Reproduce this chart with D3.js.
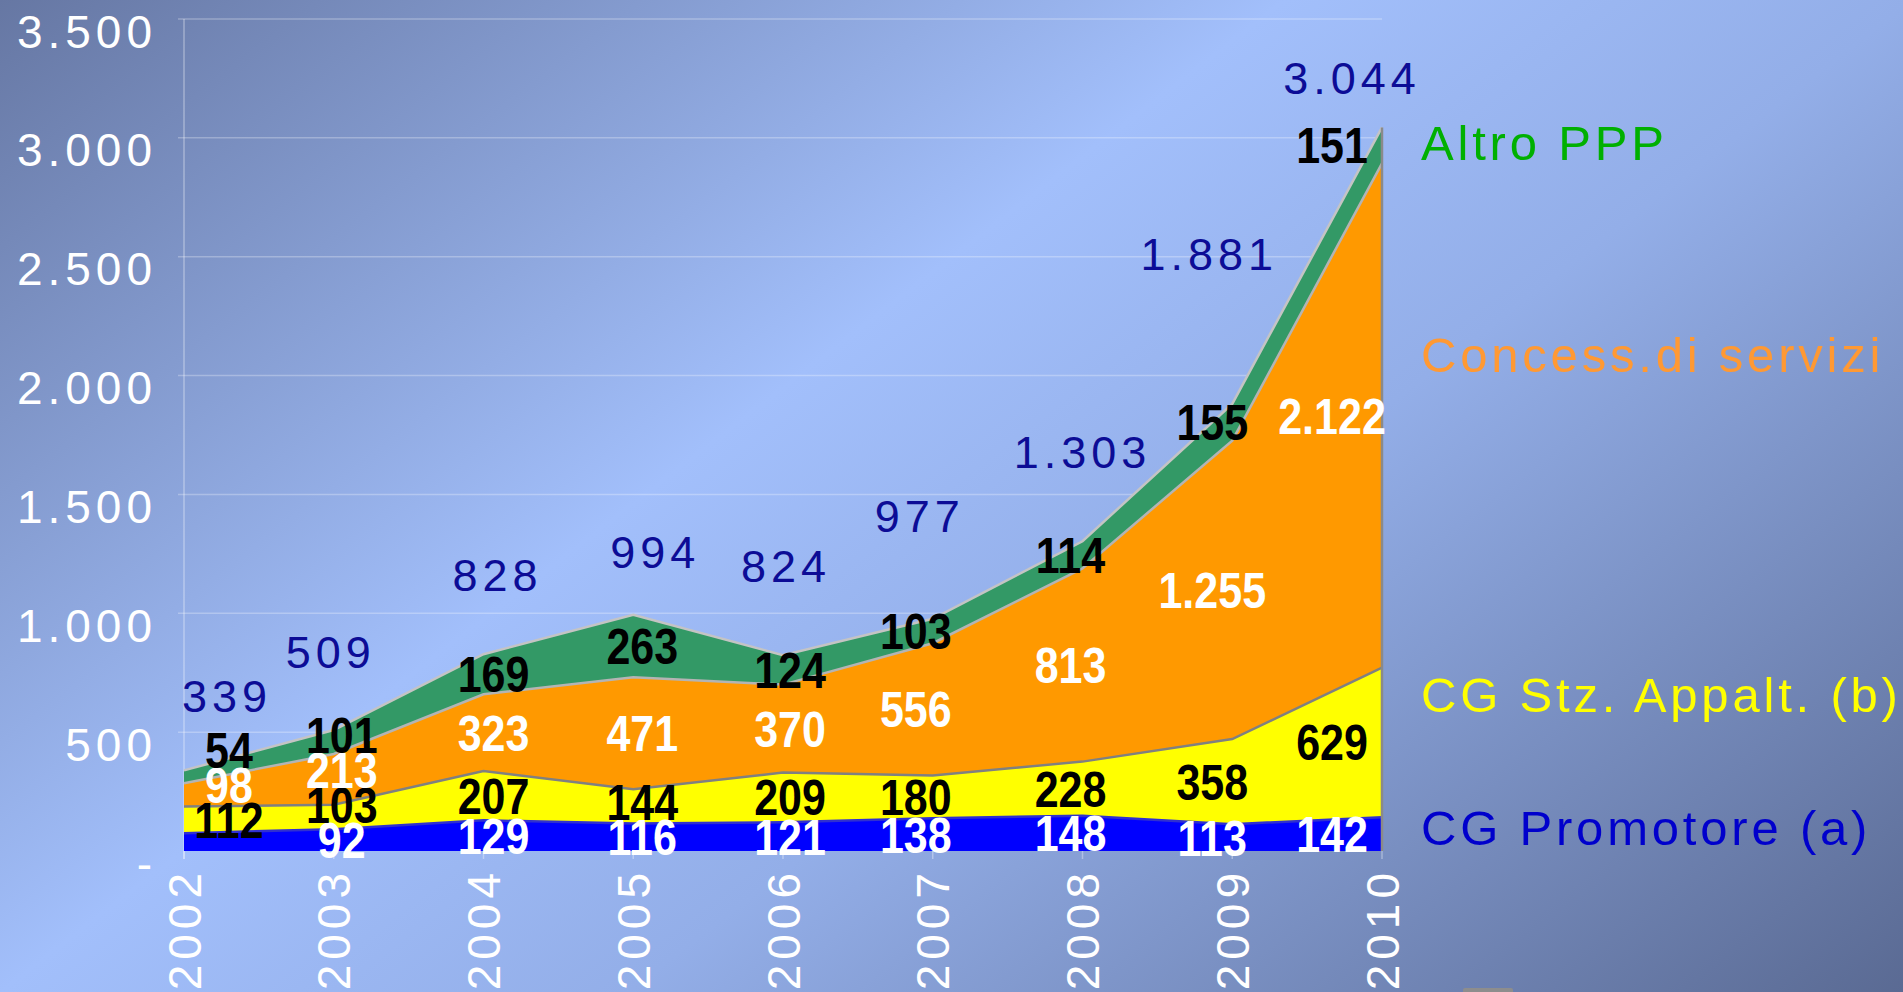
<!DOCTYPE html>
<html>
<head>
<meta charset="utf-8">
<style>
  body { margin: 0; overflow: hidden; }
  svg { display: block; }
  .tick-label { font-family: "Liberation Sans", Arial, sans-serif; font-size: 46px; letter-spacing: 5px; fill: #fff; }
  .total { font-family: "Liberation Sans", Arial, sans-serif; font-size: 45px; letter-spacing: 5px; fill: #0c0c96; }
  .value { font-family: "Liberation Sans", Arial, sans-serif; font-size: 50px; font-weight: bold; }
  .legend { font-family: "Liberation Sans", Arial, sans-serif; font-size: 49px; letter-spacing: 3.8px; }
</style>
</head>
<body>
<svg id="chart" width="1903" height="992"></svg>

<script src="https://cdn.jsdelivr.net/npm/d3@7"></script>
<script>
// values, stacked bottom to top
var years = ["2002", "2003", "2004", "2005", "2006", "2007", "2008", "2009", "2010"];
var promotore = [75, 92, 129, 116, 121, 138, 148, 113, 142];
var stzAppalt = [112, 103, 207, 144, 209, 180, 228, 358, 629];
var concessioni = [98, 213, 323, 471, 370, 556, 813, 1255, 2122];
var altroPPP = [54, 101, 169, 263, 124, 103, 114, 155, 151];
var totals = [339, 509, 828, 994, 824, 977, 1303, 1881, 3044];

var seriesKeys = ["promotore", "stzAppalt", "concessioni", "altroPPP"];
var seriesNames = ["CG Promotore (a)", "CG Stz. Appalt. (b)", "Concess.di servizi", "Altro PPP"];
var yTicks = [0, 500, 1000, 1500, 2000, 2500, 3000, 3500];

// styling
var fills = ["#0000ff", "#ffff00", "#ff9900", "#339966"];
var edges = ["#3030d0", "#808080", "#b4b4b4", "#c4c4c4"];
var labelColors = ["#fff", "#000", "#fff", "#000"];
var legendColors = ["#0000cc", "#ffff00", "#ff9933", "#00b000"];
var legendBaselines = [845, 712, 372, 160];

// hand placement of the labels in the original slide (pixels)
var colDx = [45, 8, 10, 9, 7, -17, -12, -20, -50];
var totalDx = [43, -3, 14, 22, 3, -13, 0, -23, -30];
var totalDy = [-75, -78, -79, -63, -89, -103, -89, -150, -50];
var labelGap = 35;
var narrow = 0.86; // value labels are a condensed bold face

var svg = d3.select("#chart");
var W = 1903, H = 992;

var defs = svg.append("defs");
var grad = defs.append("linearGradient")
    .attr("id", "bg")
    .attr("gradientUnits", "userSpaceOnUse")
    .attr("x1", -480).attr("y1", 370)
    .attr("x2", 711).attr("y2", 1913);
[[0, "#6677a3"], [0.403, "#a2bffb"], [0.6, "#93aee8"], [1, "#5a6a93"]].forEach(function(s){
  grad.append("stop").attr("offset", s[0]).attr("stop-color", s[1]);
});

svg.append("rect")
    .attr("width", W).attr("height", H)
    .attr("fill", "url(#bg)");

var x = d3.scalePoint()
    .domain(years)
    .range([184, 1382]);

var y = d3.scaleLinear()
    .domain([0, 3500])
    .range([851, 19]);

var fmt = d3.formatLocale({decimal: ",", thousands: ".", grouping: [3], currency: ["€", ""]}).format(",d");

var rows = years.map(function(yr, i){
  return {year: yr, promotore: promotore[i], stzAppalt: stzAppalt[i], concessioni: concessioni[i], altroPPP: altroPPP[i]};
});

var stacked = d3.stack().keys(seriesKeys)(rows);

// gridlines
svg.append("g")
  .selectAll("line")
  .data(yTicks.slice(1))
  .enter().append("line")
    .attr("x1", x.range()[0] - 6)
    .attr("x2", x.range()[1])
    .attr("y1", function(d){ return y(d); })
    .attr("y2", function(d){ return y(d); })
    .attr("stroke", "rgba(255,255,255,0.28)")
    .attr("stroke-width", 1.5);

svg.append("line")
    .attr("x1", x.range()[0]).attr("x2", x.range()[0])
    .attr("y1", y(3500)).attr("y2", y(0) + 8)
    .attr("stroke", "rgba(255,255,255,0.35)")
    .attr("stroke-width", 1.5);

svg.append("g")
  .selectAll("line")
  .data(years)
  .enter().append("line")
    .attr("x1", function(d){ return x(d); })
    .attr("x2", function(d){ return x(d); })
    .attr("y1", y(0))
    .attr("y2", y(0) + 8)
    .attr("stroke", "rgba(255,255,255,0.35)")
    .attr("stroke-width", 1.5);

// areas
var area = d3.area()
    .x(function(d){ return x(d.data.year); })
    .y0(function(d){ return y(d[0]); })
    .y1(function(d){ return y(d[1]); });

svg.append("g")
  .selectAll("path")
  .data(stacked)
  .enter().append("path")
    .attr("d", area)
    .attr("fill", function(d, i){ return fills[i]; });

var topLine = d3.line()
    .x(function(d){ return x(d.data.year); })
    .y(function(d){ return y(d[1]); });

svg.append("g")
  .selectAll("path")
  .data(stacked)
  .enter().append("path")
    .attr("d", topLine)
    .attr("fill", "none")
    .attr("stroke", function(d, i){ return edges[i]; })
    .attr("stroke-width", 2.5);

// right edge of the stack
svg.append("line")
    .attr("x1", x(years[years.length - 1]))
    .attr("x2", x(years[years.length - 1]))
    .attr("y1", y(0))
    .attr("y2", y(totals[totals.length - 1]))
    .attr("stroke", "#8a8a8a")
    .attr("stroke-width", 2.5);

// y axis labels
svg.append("g")
  .selectAll("text")
  .data(yTicks)
  .enter().append("text")
    .attr("class", "tick-label")
    .attr("x", 157)
    .attr("y", function(d){ return y(d) + 12; })
    .attr("dy", "0.36em")
    .attr("text-anchor", "end")
    .text(function(d){ return d === 0 ? "-" : fmt(d); });

// x axis labels, rotated
svg.append("g")
  .selectAll("text")
  .data(years)
  .enter().append("text")
    .attr("class", "tick-label")
    .attr("transform", function(d){ return "translate(" + x(d) + "," + (y(0) + 17) + ") rotate(-90)"; })
    .attr("dy", "0.36em")
    .attr("text-anchor", "end")
    .text(function(d){ return d; });

// value labels in the middle of each band, pushed up when they crowd
var valueG = svg.append("g");
years.forEach(function(yr, i){
  var prev = Infinity;
  stacked.forEach(function(layer, s){
    var d = layer[i];
    if (s === 0 && i === 0) return; // hidden under "112" in the original
    var yy = Math.min(y((d[0] + d[1]) / 2), prev - labelGap);
    prev = yy;
    valueG.append("text")
        .attr("class", "value")
        .attr("transform", "translate(" + (x(yr) + colDx[i]) + "," + yy + ") scale(" + narrow + ",1)")
        .attr("dy", "0.36em")
        .attr("text-anchor", "middle")
        .attr("fill", labelColors[s])
        .text(fmt(d[1] - d[0]));
  });
});

// totals
svg.append("g")
  .selectAll("text")
  .data(totals)
  .enter().append("text")
    .attr("class", "total")
    .attr("x", function(d, i){ return x(years[i]) + totalDx[i]; })
    .attr("y", function(d, i){ return y(d) + totalDy[i]; })
    .attr("dy", "0.36em")
    .attr("text-anchor", "middle")
    .text(function(d){ return fmt(d); });

// legend labels to the right
svg.append("g")
  .selectAll("text")
  .data(seriesNames)
  .enter().append("text")
    .attr("class", "legend")
    .attr("x", 1421)
    .attr("y", function(d, i){ return legendBaselines[i]; })
    .attr("fill", function(d, i){ return legendColors[i]; })
    .text(function(d){ return d; });

// little grey shape peeking in at the bottom edge
svg.append("rect")
    .attr("x", 1463).attr("y", 988)
    .attr("width", 50).attr("height", 8)
    .attr("rx", 2)
    .attr("fill", "#8d8d8d");
</script>
</body>
</html>
